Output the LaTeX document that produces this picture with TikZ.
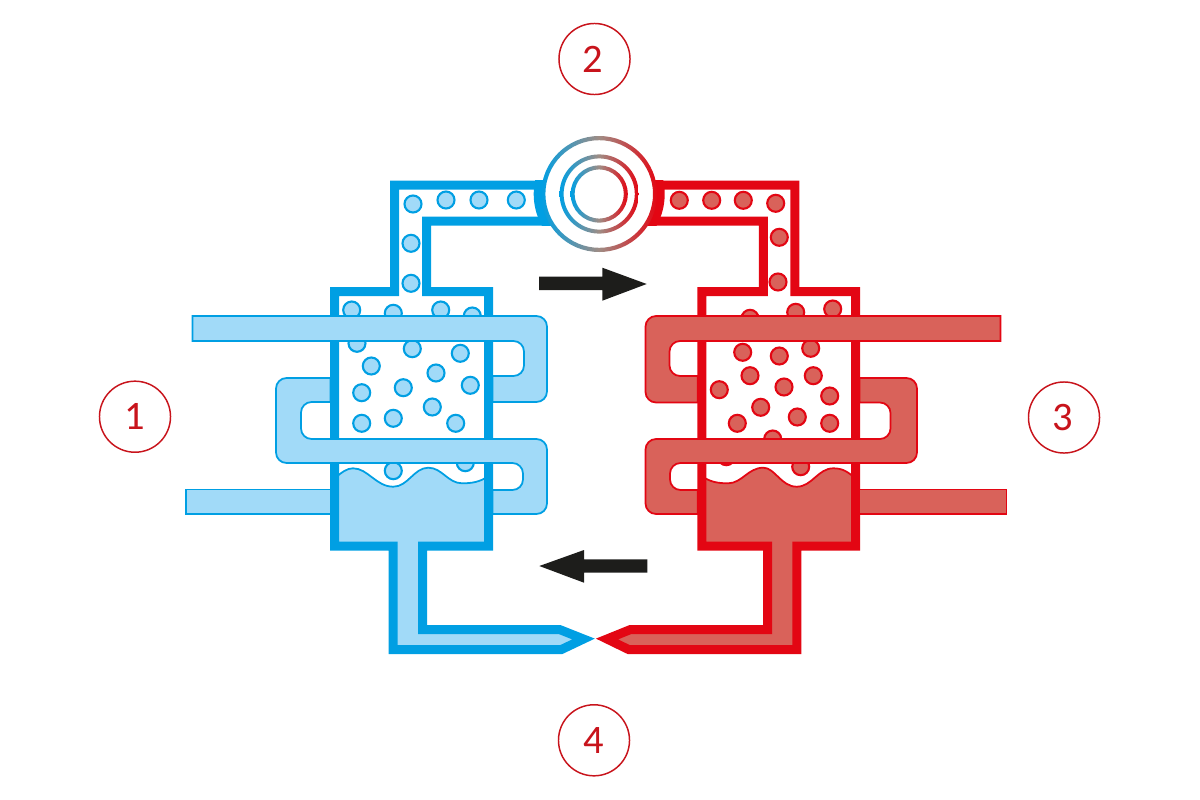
\documentclass[tikz,border=0pt]{standalone}
\usepackage{fontspec}
\setmainfont{Carlito}
\definecolor{coldwallc}{HTML}{009FE3}
\definecolor{coldfillc}{HTML}{A1DAF8}
\definecolor{hotwallc}{HTML}{E30613}
\definecolor{hotfillc}{HTML}{D9625A}
\definecolor{ringmid}{HTML}{A08C84}
\definecolor{numred}{HTML}{C8141C}
\definecolor{flowblack}{HTML}{1D1D1B}
\tikzset{
  coldwall/.style={draw=coldwallc,line width=2.56pt},
  hotwall/.style={draw=hotwallc,line width=2.56pt},
  coldtube/.style={draw=coldwallc,fill=coldfillc,line width=0.5pt},
  hottube/.style={draw=hotwallc,fill=hotfillc,line width=0.5pt},
  coldbubble/.style={draw=coldwallc,fill=coldfillc,line width=0.6pt},
  hotbubble/.style={draw=hotwallc,fill=hotfillc,line width=0.6pt},
  numring/.style={circle,draw=numred,line width=0.42pt,minimum size=0.71cm,inner sep=0pt,text=numred,font=\fontsize{11.5}{13}\selectfont},
  flowarrow/.style={fill=flowblack},
  ringshade/.style={even odd rule,left color=coldwallc,right color=hotwallc,middle color=ringmid}
}
\begin{document}
\begin{tikzpicture}[x=0.01cm,y=-0.01cm]
\useasboundingbox (0,0) rectangle (1200,800);
\node[numring] (stepone) at (135,416.7) {1};
\node[numring] (steptwo) at (594.5,59) {\kern-1pt 2};
\node[numring] (stepthree) at (1064,417.5) {\kern-1pt 3};
\node[numring] (stepfour) at (594,740.3) {4};
% cold side
\draw[coldtube] (334.5,478.5) .. controls (342,472) and (347,468.3) .. (353,468.3) .. controls (368,468.3) and (376,486.7) .. (393.3,486.7) .. controls (408,486.7) and (414,467.7) .. (428.3,467.7) .. controls (442,467.7) and (448,483.3) .. (462,483.3) .. controls (472,483.3) and (480,482) .. (488.5,476) -- (488.5,546) -- (422.5,546) -- (422.5,629.7) -- (560,629.7) -- (583.5,639) -- (561,649.7) -- (393,649.7) -- (393,546) -- (334.5,546) -- cycle;
\foreach \x/\y in {413/204,446/200,479/200,516.3/200,411/243.3,411/283.3,
  351.7/310,393.3/313.3,440.7/310,472.3/316,357/343.3,412.3/348.7,460.3/353.3,
  371.3/366,436/373,361.7/392.7,403.3/387.7,470.3/385.3,361.7/423.3,393.3/418.3,
  432.3/407,455.7/423.3,393.3/470.7,465.3/462.7} {
  \draw[coldbubble] (\x,\y) circle (8.5);
}
\draw[coldwall] (545,185) -- (394.5,185) -- (394.5,291.5) -- (334.5,291.5) -- (334.5,546.2) -- (393,546.2) -- (393,649.7) -- (561,649.7) -- (583.5,639) -- (560,629.7) -- (422.5,629.7) -- (422.5,546.2) -- (488.5,546.2) -- (488.5,291.5) -- (426.7,291.5) -- (426.7,221) -- (545,221);
\draw[coldtube] (186,489.5) -- (330.5,489.5) -- (330.5,514) -- (186,514) -- cycle;
\draw[coldtube] (192.5,316) [rounded corners=3pt] -- (547,316) -- (547,402) [sharp corners] -- (492.5,402) -- (492.5,376) [rounded corners=3pt] -- (524,376) -- (524,341) [sharp corners] -- (192.5,341) -- cycle;
\draw[coldtube] (330.5,378) [rounded corners=3pt] -- (276,378) -- (276,463) -- (523,463) -- (523,490) [sharp corners] -- (492.5,490) -- (492.5,514) [rounded corners=3pt] -- (547,514) -- (547,439) -- (301,439) -- (301,402) [sharp corners] -- (330.5,402) -- cycle;
% hot side
\draw[hottube] (855.5,478.5) .. controls (848,472) and (843,468.3) .. (833.3,468.3) .. controls (818,468.3) and (812,486.7) .. (796.7,486.7) .. controls (781,486.7) and (775,467.7) .. (763.3,467.7) .. controls (748,467.7) and (742,483.3) .. (728,483.3) .. controls (718,483.3) and (710,482) .. (701.8,476) -- (701.8,546) -- (767.5,546) -- (767.5,629.7) -- (630,629.7) -- (607,639) -- (629,649.7) -- (796.8,649.7) -- (796.8,546) -- (855.5,546) -- cycle;
\foreach \x/\y in {679.3/200.3,711.7/200.3,743.3/200.3,775.7/203.3,779.3/237.3,778/282,
  750/318.3,795.7/312.3,832.7/309,742.7/352.3,779.3/356,810.7/348.3,750/375.7,
  813.3/375.7,719.3/389.7,784/387,829.7/396,760.7/407.3,797.3/417,737.3/423.3,
  829.7/423.3,772.7/439,726.3/456.7,800.7/466.7} {
  \draw[hotbubble] (\x,\y) circle (8.5);
}
\draw[hotwall] (655,185) -- (794.8,185) -- (794.8,291.5) -- (855.5,291.5) -- (855.5,546.2) -- (796.8,546.2) -- (796.8,649.7) -- (629,649.7) -- (607,639) -- (630,629.7) -- (767.5,629.7) -- (767.5,546.2) -- (701.8,546.2) -- (701.8,291.5) -- (763.3,291.5) -- (763.3,221) -- (655,221);
\draw[hottube] (859.5,489.5) -- (1006.5,489.5) -- (1006.5,514) -- (859.5,514) -- cycle;
\draw[hottube] (1000.5,316) [rounded corners=3pt] -- (645.5,316) -- (645.5,402.5) [sharp corners] -- (697.8,402.5) -- (697.8,376) [rounded corners=3pt] -- (669.5,376) -- (669.5,341) [sharp corners] -- (1000.5,341) -- cycle;
\draw[hottube] (859.5,378) [rounded corners=3pt] -- (917,378) -- (917,463) -- (670,463) -- (670,490) [sharp corners] -- (697.8,490) -- (697.8,514) [rounded corners=3pt] -- (645.5,514) -- (645.5,439) -- (890.5,439) -- (890.5,402.5) [sharp corners] -- (859.5,402.5) -- cycle;
% compressor
\begin{scope}
\clip (530,180.7) rectangle (570,225.3);
\fill[coldwallc] (599.2,194) circle (65.5);
\end{scope}
\begin{scope}
\clip (630,180.7) rectangle (670,225.3);
\fill[hotwallc] (599.2,194) circle (65.5);
\end{scope}
\fill[white] (599.2,194) circle (57);
\shade[ringshade] (599.2,194) circle (58) (599.2,194) circle (53.8);
\shade[ringshade] (599.2,194) circle (39.6) (599.2,194) circle (35.6);
\shade[ringshade] (599.2,194) circle (28.6) (599.2,194) circle (24.6);
% flow direction
\fill[flowarrow] (539,276.7) -- (602.3,276.7) -- (602.3,267.7) -- (646.7,284) -- (602.3,300.7) -- (602.3,290) -- (539,290) -- cycle;
\fill[flowarrow] (647.3,559.3) -- (584,559.3) -- (584,550) -- (539.3,566) -- (584,582.7) -- (584,572.7) -- (647.3,572.7) -- cycle;
\end{tikzpicture}
\end{document}
